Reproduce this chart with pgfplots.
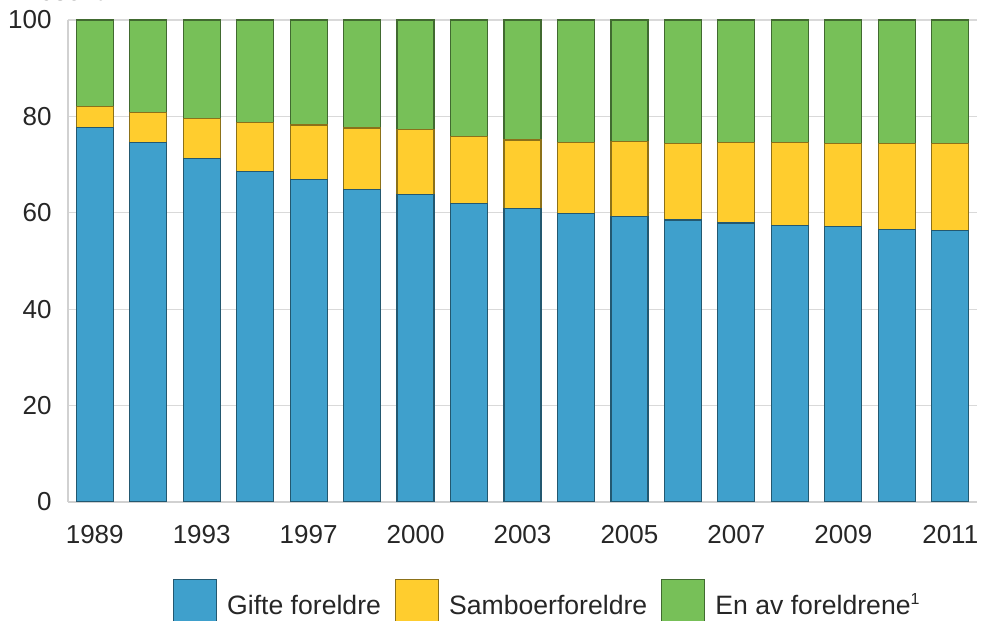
\documentclass[border=0pt]{standalone}
\usepackage{pgfplots}
\pgfplotsset{compat=1.18}
\usepackage{fontspec}
\setmainfont{Liberation Sans}
\definecolor{cblue}{HTML}{3FA0CC}
\definecolor{cyellow}{HTML}{FFCD2E}
\definecolor{cgreen}{HTML}{77C058}
\pgfplotstableread{
x blue yellow green
0 77.7 4.3 18.0
1 74.6 6.2 19.2
2 71.2 8.3 20.5
3 68.6 10.1 21.3
4 66.9 11.3 21.8
5 64.9 12.7 22.4
6 63.8 13.4 22.8
7 62.0 13.9 24.1
8 60.9 14.2 24.9
9 59.9 14.7 25.4
10 59.3 15.5 25.2
11 58.5 15.9 25.6
12 57.9 16.7 25.4
13 57.3 17.3 25.4
14 57.1 17.3 25.6
15 56.6 17.8 25.6
16 56.3 18.1 25.6
}\datatable
\begin{document}
\begin{tikzpicture}
\begin{axis}[
  at={(0,0)}, anchor=south west,
  scale only axis, width=454.5pt, height=241pt,
  xmin=-0.5, xmax=16.5, ymin=0, ymax=100,
  ybar stacked, bar width=18.5pt,
  xtick={0,2,...,16},
  xticklabels={1989,1993,1997,2000,2003,2005,2007,2009,2011},
  ytick={0,20,...,100},
  ymajorgrids, grid style={draw=black!15, line width=0.6pt},
  axis x line*=bottom, axis y line*=left,
  axis line style={-, draw=black!18, line width=0.6pt},
  major tick length=0pt,
  /pgf/number format/assume math mode=true,
  ticklabel style={font=\fontsize{13}{15}\selectfont, text=black!85},
  yticklabel style={anchor=east, inner sep=0pt, xshift=-8pt},
  xticklabel style={anchor=north, inner sep=0pt, yshift=-11.5pt},
  legend columns=3,
  legend style={at={(0.1155,-0.1598)}, anchor=north west, draw=none, fill=none,
    inner sep=0pt, outer sep=0pt,
    font=\fontsize{13.3}{15}\selectfont,
    nodes={inner sep=0pt, text=black!85},
    /tikz/every odd column/.append style={column sep=5pt},
    /tikz/every even column/.append style={column sep=7pt}},
  legend image code/.code={\draw[#1, line width=0.6pt] (0pt,-7.9pt) rectangle (21.5pt,13.6pt);},
]
\addplot[fill=cblue, draw=cblue!55!black, line width=0.6pt] table[x=x, y=blue] {\datatable};
\addplot[fill=cyellow, draw=cyellow!55!black, line width=0.6pt] table[x=x, y=yellow] {\datatable};
\addplot[fill=cgreen, draw=cgreen!55!black, line width=0.6pt] table[x=x, y=green] {\datatable};
\legend{Gifte foreldre, Samboerforeldre, En av foreldrene\smash{\textsuperscript{\fontsize{8}{8}\selectfont 1}}}
\end{axis}
\node[anchor=base west, inner sep=0pt, font=\fontsize{13}{15}\selectfont, text=black!85] at (-27.5pt,250.7pt) {Prosent};
\pgfresetboundingbox
\useasboundingbox (-34pt,-59.5pt) rectangle (456.5pt,251pt);
\end{tikzpicture}
\end{document}
